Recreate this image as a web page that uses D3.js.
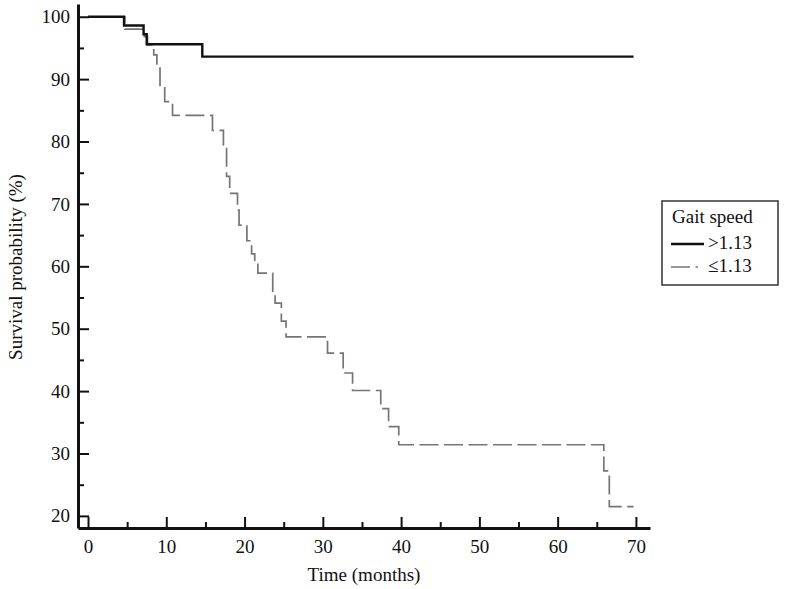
<!DOCTYPE html>
<html>

<head>
  <title>Survival by gait speed</title>
  <meta charset="utf-8">
  <script src="https://d3js.org/d3.v7.min.js"></script>
  <style>
    body {
      margin: 0;
      background: #fff;
    }
    svg text {
      font-family: "Liberation Serif", "Times New Roman", serif;
      fill: #111;
    }
  </style>
</head>

<body>
  <script>
    // Data (months, survival %)
    var timeFast = [0, 4.6, 7.1, 7.5, 14.6, 69.7];
    var survFast = [100, 98.6, 97.2, 95.6, 93.6, 93.6];

    var timeSlow = [0, 4.7, 7.2, 7.6, 8.4, 8.8, 9.2, 9.8, 10.8, 15.9, 17.3, 17.7, 18.1, 19.1, 19.3,
      20.3, 20.9, 21.3, 21.7, 23.6, 23.9, 24.7, 25.3, 30.6, 32.6, 33.8, 37.4, 38.4, 39.7, 65.9, 66.6, 69.7];
    var survSlow = [100, 98.0, 96.8, 95.5, 93.9, 92.0, 88.8, 86.4, 84.2, 81.8, 79.4, 74.4, 71.7, 69.0, 66.6,
      64.1, 62.0, 60.7, 58.9, 55.7, 54.1, 51.2, 48.7, 46.1, 42.9, 40.1, 37.2, 34.3, 31.4, 27.2, 21.5, 21.5];

    var xTicks = [0, 10, 20, 30, 40, 50, 60, 70];
    var xMinor = [5, 15, 25, 35, 45, 55, 65];
    var yTicks = [20, 30, 40, 50, 60, 70, 80, 90, 100];
    var yMinor = [25, 35, 45, 55, 65, 75, 85, 95];

    var legendTitle = "Gait speed";
    var legendLabels = [">1.13", "\u22641.13"];

    var width = 786, height = 589;

    var svg = d3.select(document.body)
      .append("svg")
      .attr("width", width)
      .attr("height", height);

    var x = d3.scaleLinear().domain([-1.28, 71.8]).range([78, 650]);
    var y = d3.scaleLinear().domain([18.06, 102.04]).range([528, 4]);

    // minor ticks first, then the main axes on top
    svg.append("g")
      .attr("transform", "translate(0,528)")
      .call(d3.axisBottom(x).tickValues(xMinor).tickSize(-6).tickSizeOuter(0).tickFormat(""))
      .call(g => g.select(".domain").remove())
      .selectAll("line").attr("stroke", "#111").attr("stroke-width", 2);

    svg.append("g")
      .attr("transform", "translate(78,0)")
      .call(d3.axisLeft(y).tickValues(yMinor).tickSize(-6).tickSizeOuter(0).tickFormat(""))
      .call(g => g.select(".domain").remove())
      .selectAll("line").attr("stroke", "#111").attr("stroke-width", 2);

    var xAxis = svg.append("g")
      .attr("transform", "translate(0,528)")
      .call(d3.axisBottom(x).tickValues(xTicks).tickSize(-11).tickSizeOuter(0).tickPadding(12));

    var yAxis = svg.append("g")
      .attr("transform", "translate(78,0)")
      .call(d3.axisLeft(y).tickValues(yTicks).tickSize(-11).tickSizeOuter(0).tickPadding(8));

    [xAxis, yAxis].forEach(function (a) {
      a.select(".domain").attr("stroke", "#111").attr("stroke-width", 3);
      a.selectAll(".tick line").attr("stroke", "#111").attr("stroke-width", 2);
      a.selectAll(".tick text").attr("font-size", 19).attr("fill", "#111");
    });

    // survival curves
    var line = d3.line()
      .x(function (d) { return x(d[0]); })
      .y(function (d) { return y(d[1]); })
      .curve(d3.curveStepAfter);

    var slow = timeSlow.map(function (t, i) { return [t, survSlow[i]]; });
    var fast = timeFast.map(function (t, i) { return [t, survFast[i]]; });

    svg.append("path")
      .datum(slow)
      .attr("d", line)
      .attr("fill", "none")
      .attr("stroke", "#757575")
      .attr("stroke-width", 1.7)
      .attr("stroke-dasharray", "19,5.5");

    svg.append("path")
      .datum(fast)
      .attr("d", line)
      .attr("fill", "none")
      .attr("stroke", "#111")
      .attr("stroke-width", 2.4);

    // axis titles
    svg.append("text")
      .attr("x", 364)
      .attr("y", 581)
      .attr("text-anchor", "middle")
      .attr("font-size", 19)
      .text("Time (months)");

    svg.append("text")
      .attr("transform", "translate(22,267) rotate(-90)")
      .attr("text-anchor", "middle")
      .attr("font-size", 19)
      .text("Survival probability (%)");

    // legend
    var legend = svg.append("g").attr("transform", "translate(662,201)");
    legend.append("rect")
      .attr("width", 116)
      .attr("height", 84)
      .attr("fill", "#fff")
      .attr("stroke", "#333")
      .attr("stroke-width", 1.5);
    legend.append("text")
      .attr("x", 10)
      .attr("y", 22)
      .attr("font-size", 19)
      .text(legendTitle);

    var styles = [
      { stroke: "#111", w: 2.4, dash: null },
      { stroke: "#757575", w: 1.7, dash: "19,5.5" }
    ];
    legendLabels.forEach(function (lab, i) {
      var yy = 43 + i * 23;
      legend.append("line")
        .attr("x1", 9).attr("x2", i === 0 ? 42 : 36)
        .attr("y1", yy).attr("y2", yy)
        .attr("stroke", styles[i].stroke)
        .attr("stroke-width", styles[i].w)
        .attr("stroke-dasharray", styles[i].dash);
      legend.append("text")
        .attr("x", 46)
        .attr("y", yy + 5)
        .attr("font-size", 19)
        .text(lab);
    });
  </script>
</body>

</html>
